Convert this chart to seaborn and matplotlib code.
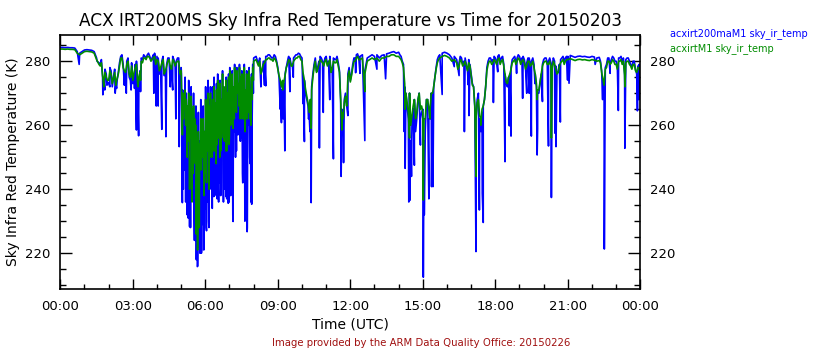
import numpy as np
import pandas as pd
import matplotlib
matplotlib.use("Agg")
import matplotlib.pyplot as plt
from matplotlib.ticker import MultipleLocator
import seaborn as sns

# Sample grid: one value every 0.1 h from 00:00 to 24:00
step_hours = np.arange(241) * 0.1

# acxirt200maM1 sky_ir_temp (K), 0.1 h samples, one row per hour
blue_base = [
    284.3, 284.3, 284.2, 284.3, 284.2, 284.2, 284.1, 283.0, 282.5, 283.0,
    283.5, 283.6, 283.5, 283.4, 283.0, 281.0, 279.5, 280.5, 274.0, 276.0,
    273.0, 277.0, 275.0, 272.5, 276.5, 281.5, 279.0, 276.0, 281.0, 274.0,
    273.0, 279.0, 272.0, 277.0, 280.5, 281.5, 282.0, 281.5, 281.0, 282.5,
    281.5, 276.0, 280.0, 275.5, 279.0, 281.0, 277.0, 280.5, 280.0, 281.0,
    278.0, 262.0, 270.0, 250.0, 265.0, 240.0, 255.0, 232.0, 245.0, 262.0,
    238.0, 268.0, 245.0, 272.0, 250.0, 266.0, 242.0, 270.0, 255.0, 274.0,
    252.0, 276.0, 262.0, 278.0, 270.0, 275.0, 258.0, 270.0, 262.0, 272.0,
    281.0, 281.5, 279.0, 276.0, 280.0, 281.5, 282.0, 281.5, 281.0, 281.5,
    278.0, 274.0, 270.0, 276.0, 280.0, 281.0, 279.0, 281.5, 282.0, 282.3,
    281.0, 274.0, 268.0, 263.0, 272.0, 279.0, 277.0, 280.0, 281.0, 279.0,
    281.5, 280.0, 277.0, 281.0, 280.5, 279.5, 268.0, 262.0, 270.0, 276.0,
    274.0, 279.0, 281.0, 282.3, 281.5, 282.0, 277.0, 281.0, 281.5, 282.0,
    281.5, 282.0, 281.0, 281.8, 282.0, 282.3, 282.5, 282.8, 283.0, 282.5,
    282.8, 281.5, 279.0, 270.0, 262.0, 255.0, 265.0, 258.0, 268.0, 262.0,
    265.0, 258.0, 268.0, 262.0, 270.0, 275.0, 280.5, 282.0, 282.5, 282.8,
    282.5, 282.0, 281.0, 281.5, 280.5, 279.5, 281.0, 280.0, 279.0, 280.5,
    276.0, 272.0, 262.0, 270.0, 258.0, 266.0, 272.0, 280.0, 281.0, 280.5,
    281.0, 281.5, 280.0, 281.5, 276.0, 272.0, 276.0, 280.5, 281.5, 281.0,
    281.5, 281.0, 280.5, 279.5, 281.0, 280.0, 279.0, 272.0, 270.0, 276.0,
    280.5, 281.0, 280.0, 279.5, 281.0, 278.5, 277.0, 280.5, 281.5, 281.0,
    281.5, 281.8, 281.5, 281.2, 281.5, 281.6, 281.4, 281.5, 281.3, 281.2,
    281.5, 281.3, 281.0, 281.2, 277.0, 272.0, 279.0, 281.0, 280.5, 281.0,
    280.0, 281.0, 281.5, 281.0, 280.5, 281.0, 279.0, 280.0, 277.5, 278.5,
    276.0,
]

# Short-lived dips between the regular samples
blue_spike_hours = [
    0.78, 1.52, 1.76, 1.84, 1.93, 2.05, 2.27, 2.33, 2.65, 2.73,
    2.93, 3.07, 3.15, 3.24, 3.32, 3.87, 3.97,
    4.05, 4.20, 4.37, 4.55, 4.65, 4.78, 4.92,
    5.05, 5.15, 5.25, 5.35, 5.45, 5.55, 5.62, 5.67, 5.72, 5.78, 5.85, 5.95,
    6.05, 6.15, 6.25, 6.35, 6.45, 6.55, 6.65, 6.75, 6.85, 6.95,
    7.05, 7.15, 7.25, 7.35, 7.45, 7.55, 7.65, 7.73, 7.85, 7.92,
    8.30, 8.45, 8.50, 9.10, 9.15, 9.22, 9.29, 9.50, 9.64,
    10.05, 10.10, 10.27, 10.33, 10.38, 10.72, 10.88, 11.15, 11.30,
    11.62, 11.68, 11.72, 11.90, 12.22, 12.40, 12.60, 13.10, 13.46,
    14.23, 14.27, 14.42, 14.46, 14.53, 14.65, 14.90,
    15.02, 15.06, 15.25, 15.36, 15.42, 15.80, 16.30,
    16.50, 16.72, 16.88, 16.91, 17.20, 17.34, 17.46, 17.50, 17.92, 18.10,
    18.40, 18.58, 18.65, 18.88, 19.13, 19.30, 19.40, 19.49, 19.64, 19.73,
    19.75, 19.95, 20.20, 20.32, 20.47, 20.51, 20.69, 20.99, 21.05, 22.13,
    22.44, 22.51, 22.75, 23.09, 23.36, 23.88, 23.94,
]
blue_spike_vals = [
    279.0, 280.0, 269.5, 271.0, 272.5, 272.0, 270.0, 271.5, 272.5, 270.0,
    271.0, 271.5, 258.5, 256.7, 270.5, 270.0, 266.0,
    266.0, 258.7, 256.4, 272.0, 271.0, 262.0, 253.3,
    235.8, 246.0, 232.0, 228.3, 238.0, 224.0, 218.0, 215.8, 222.0, 220.0, 221.0, 230.0,
    227.0, 228.0, 240.0, 237.7, 242.0, 236.0, 244.0, 236.0, 237.7, 235.6,
    238.0, 229.9, 250.0, 257.0, 255.0, 242.0, 232.0, 226.7, 248.0, 235.3,
    272.0, 272.5, 272.3, 265.0, 260.8, 262.0, 252.0, 270.5, 275.0,
    266.7, 254.9, 262.0, 258.0, 235.8, 252.9, 264.0, 268.0, 249.5,
    244.0, 258.0, 248.3, 263.0, 276.4, 276.2, 255.2, 277.5, 274.5,
    258.0, 246.5, 236.0, 236.5, 244.0, 247.5, 253.8,
    212.5, 232.0, 237.0, 240.8, 240.8, 269.6, 278.3,
    275.5, 258.0, 272.6, 263.0, 220.5, 233.5, 238.7, 229.6, 267.1, 276.7,
    248.6, 259.8, 256.6, 276.2, 268.4, 270.0, 270.0, 256.6, 273.0, 250.7,
    259.0, 267.4, 253.5, 237.4, 257.5, 253.3, 261.0, 274.1, 273.1, 279.0,
    268.0, 221.3, 276.2, 264.6, 252.8, 264.5, 268.0,
]

# acxirtM1 sky_ir_temp (K), 0.1 h samples, one row per hour
green_base = [
    283.8, 283.8, 283.7, 283.8, 283.7, 283.7, 283.6, 282.5, 282.0, 282.5,
    283.0, 283.1, 283.0, 282.9, 282.5, 280.5, 279.0, 279.5, 273.5, 275.0,
    274.0, 276.0, 274.5, 273.0, 276.0, 281.0, 278.0, 276.5, 280.0, 275.0,
    274.0, 278.0, 273.0, 276.5, 279.5, 281.0, 281.5, 281.0, 280.5, 281.5,
    280.5, 277.0, 279.5, 276.0, 278.5, 280.5, 277.5, 280.0, 279.5, 280.0,
    277.0, 262.0, 268.0, 255.0, 262.0, 245.0, 252.0, 238.0, 248.0, 258.0,
    245.0, 265.0, 250.0, 268.0, 252.0, 262.0, 250.0, 266.0, 258.0, 270.0,
    258.0, 274.0, 262.0, 276.0, 268.0, 274.0, 262.0, 268.0, 264.0, 271.0,
    280.0, 280.5, 278.5, 276.0, 279.0, 280.5, 281.0, 280.5, 280.0, 280.5,
    277.5, 274.0, 271.0, 275.5, 279.0, 280.0, 278.5, 280.5, 281.0, 281.5,
    280.0, 274.0, 269.0, 264.0, 271.0, 278.0, 276.5, 279.0, 280.0, 278.5,
    280.5, 279.5, 276.5, 280.0, 279.5, 278.5, 268.0, 262.0, 269.0, 275.0,
    273.5, 278.0, 280.0, 281.5, 280.5, 281.0, 276.0, 280.0, 280.5, 281.0,
    280.5, 281.0, 280.0, 281.0, 281.0, 281.5, 281.5, 282.0, 282.0, 281.5,
    281.5, 280.5, 278.0, 270.0, 264.0, 260.0, 266.0, 262.0, 268.0, 265.0,
    264.0, 262.0, 268.0, 265.0, 270.0, 275.0, 279.5, 281.0, 281.5, 281.8,
    281.5, 281.0, 280.0, 280.5, 279.5, 278.5, 280.0, 279.0, 278.5, 279.5,
    275.5, 272.0, 262.0, 268.0, 260.0, 266.0, 272.0, 279.0, 280.0, 279.5,
    280.0, 280.5, 279.0, 280.5, 276.0, 273.0, 276.0, 279.5, 280.5, 280.0,
    280.5, 280.0, 279.5, 278.5, 280.0, 279.0, 278.0, 273.0, 271.0, 276.0,
    279.5, 280.0, 279.0, 278.5, 280.0, 277.5, 276.5, 279.5, 280.5, 280.0,
    280.5, 280.8, 280.5, 280.2, 280.5, 280.6, 280.4, 280.5, 280.3, 280.2,
    280.5, 280.3, 280.0, 280.2, 276.5, 272.5, 278.0, 280.0, 279.5, 280.0,
    279.0, 280.0, 280.5, 280.0, 279.5, 280.0, 278.5, 279.0, 277.0, 278.0,
    276.0,
]

green_spike_hours = [
    1.80, 2.30, 3.22, 3.32,
    5.05, 5.25, 5.35, 5.45, 5.62, 5.68, 5.75, 5.95, 6.05, 6.15, 6.35, 6.45,
    6.65, 6.75, 6.85, 7.05, 7.15, 7.45, 7.65, 7.85,
    9.20, 10.38, 11.65, 12.60, 14.27, 14.45, 15.02, 15.30, 17.20, 17.40,
    19.73, 20.32, 23.36,
]
green_spike_vals = [
    272.0, 272.5, 272.0, 274.0,
    257.0, 250.0, 240.0, 236.0, 226.0, 221.0, 228.0, 238.0, 242.0, 240.0, 252.0, 248.0,
    255.0, 256.0, 252.0, 260.0, 259.0, 262.0, 258.0, 262.0,
    274.0, 259.0, 258.5, 270.5, 265.0, 256.0, 236.6, 262.0, 244.0, 262.0,
    268.0, 256.0, 272.0,
]

# Cloudy morning 05:00-08:00 sampled more finely (every 0.025 h)
cloud_hours = 5.0125 + np.arange(120) * 0.025
blue_cloud = [
    276, 252, 271, 240, 266, 258, 275, 236, 270, 248, 262, 231, 274, 255, 268, 228, 272, 246, 264, 238,
    270, 232, 262, 224, 266, 218, 258, 216, 264, 222, 255, 226, 268, 220, 260, 229, 266, 221, 258, 234,
    272, 228, 265, 236, 274, 230, 268, 245, 272, 240, 262, 234, 270, 248, 275, 238, 266, 250, 273, 237,
    276, 244, 270, 252, 274, 238, 268, 255, 277, 246, 272, 240, 266, 253, 275, 237, 270, 248, 276, 236,
    278, 250, 273, 260, 277, 232, 270, 258, 279, 262, 274, 252, 278, 266, 272, 258, 279, 264, 275, 256,
    277, 245, 272, 262, 279, 230, 270, 255, 277, 228, 274, 260, 278, 250, 270, 236, 276, 262, 279, 270,
]
green_cloud = [
    272, 266, 270, 262, 268, 265, 271, 260, 268, 263, 266, 258, 270, 264, 267, 256, 269, 262, 265, 258,
    266, 255, 262, 248, 260, 240, 256, 232, 258, 245, 254, 250, 262, 246, 258, 250, 262, 248, 258, 252,
    268, 248, 265, 252, 270, 250, 266, 256, 270, 254, 263, 250, 268, 258, 272, 252, 267, 260, 271, 254,
    274, 256, 270, 262, 273, 252, 268, 263, 276, 258, 272, 255, 268, 262, 274, 252, 270, 258, 275, 254,
    277, 264, 273, 268, 276, 262, 272, 266, 278, 268, 274, 264, 277, 270, 273, 266, 278, 270, 275, 265,
    276, 262, 273, 268, 278, 258, 271, 265, 276, 262, 274, 268, 277, 262, 271, 260, 275, 268, 278, 274,
]

# Extra half-step samples (x.x5 h) through the broken-cloud periods
half_a_hours = 1.65 + np.arange(34) * 0.1
blue_half_a = [
    279.0, 275.0, 277.5, 273.5, 278.0, 272.0, 277.5, 274.0, 279.5, 282.0,
    277.0, 280.0, 275.0, 279.5, 276.0, 280.0, 274.0, 281.0, 282.0, 281.0,
    282.5, 280.5, 282.0, 279.0, 281.0, 278.0, 281.5, 276.5, 281.0, 278.5,
    281.5, 279.0, 281.0, 276.0,
]
green_half_a = [
    278.5, 275.5, 276.5, 274.0, 277.0, 273.0, 276.5, 274.5, 278.5, 281.0,
    277.0, 279.0, 276.0, 278.5, 276.5, 279.0, 275.0, 280.0, 281.0, 280.5,
    281.5, 280.0, 281.0, 279.0, 280.0, 278.0, 280.5, 277.0, 280.0, 278.5,
    280.5, 278.5, 280.0, 276.0,
]

half_b_hours = 8.25 + np.arange(42) * 0.1
blue_half_b = [
    281.0, 277.0, 280.0, 281.5, 282.0, 281.0, 282.0, 280.0,
    275.0, 271.0, 273.0, 278.0, 281.5, 279.0, 281.0, 282.0, 282.5, 281.5,
    276.0, 270.0, 266.0, 268.0, 276.0, 281.0, 278.0, 281.5, 280.0, 281.0,
    279.0, 281.5, 278.0, 280.5, 281.5, 277.0, 265.0, 268.0, 266.0, 278.0,
    276.0, 281.0, 282.0, 281.0,
]
green_half_b = [
    280.0, 277.5, 279.5, 280.5, 281.0, 280.5, 281.0, 279.5,
    275.5, 272.0, 273.5, 278.0, 280.5, 278.5, 280.0, 281.0, 281.5, 280.5,
    276.0, 271.0, 267.0, 268.0, 275.0, 280.0, 277.5, 280.5, 279.5, 280.0,
    278.5, 280.5, 277.5, 279.5, 280.5, 276.5, 264.0, 267.0, 266.0, 277.0,
    275.5, 280.0, 281.0, 280.5,
]

half_c_hours = 14.05 + np.arange(17) * 0.1
blue_half_c = [
    282.0, 280.0, 272.0, 266.0, 270.0, 260.0, 268.0, 262.0, 270.0, 264.0,
    255.0, 268.0, 262.0, 270.0, 272.0, 278.0, 281.5,
]
green_half_c = [
    281.0, 279.5, 273.0, 267.0, 270.0, 263.0, 268.0, 264.0, 270.0, 266.0,
    262.0, 268.0, 265.0, 270.0, 272.0, 277.5, 280.5,
]

half_d_hours = 16.35 + np.arange(47) * 0.1
blue_half_d = [
    281.0, 278.0, 281.5, 279.0, 281.0, 277.0, 279.0,
    273.0, 266.0, 268.0, 262.0, 264.0, 268.0, 278.0, 281.0, 280.0, 281.5,
    280.0, 282.0, 281.0, 279.0, 273.0, 275.0, 278.0, 281.0, 280.0, 282.0,
    280.0, 281.5, 278.0, 281.0, 279.0, 281.0, 276.0, 270.0, 273.0, 279.0,
    281.0, 279.5, 281.0, 278.0, 280.0, 276.0, 279.0, 281.0, 280.0, 281.5,
]
green_half_d = [
    280.0, 277.5, 280.5, 278.5, 280.0, 277.0, 278.5,
    272.5, 266.0, 267.0, 263.0, 265.0, 268.0, 277.0, 280.0, 279.0, 280.5,
    279.0, 281.0, 280.0, 278.5, 273.5, 275.0, 277.5, 280.0, 279.0, 281.0,
    279.0, 280.5, 277.5, 280.0, 278.5, 280.0, 276.0, 271.0, 273.5, 278.5,
    280.0, 279.0, 280.0, 277.5, 279.0, 276.0, 278.5, 280.0, 279.0, 280.5,
]

half_e_hours = 22.35 + np.arange(17) * 0.1
blue_half_e = [
    280.0, 274.0, 278.0, 281.0, 279.5, 281.5, 280.0, 278.0, 281.0, 280.0,
    276.0, 281.0, 280.0, 278.0, 280.0, 276.0, 279.0,
]
green_half_e = [
    279.5, 274.5, 277.5, 280.0, 279.0, 280.5, 279.0, 277.5, 280.0, 279.0,
    275.5, 280.0, 279.0, 277.5, 279.0, 276.5, 278.0,
]

blue_name = "acxirt200maM1 sky_ir_temp"
green_name = "acxirtM1 sky_ir_temp"
blue_color = "#0000ff"
green_color = "#008c00"


def build_frame(name, parts):
    hours = np.concatenate([np.asarray(h, dtype=float) for h, _ in parts])
    temps = np.concatenate([np.asarray(v, dtype=float) for _, v in parts])
    return pd.DataFrame({"hour": hours, "temp": temps, "series": name})


df = pd.concat([
    build_frame(blue_name, [(step_hours, blue_base),
                            (blue_spike_hours, blue_spike_vals),
                            (cloud_hours, blue_cloud),
                            (half_a_hours, blue_half_a),
                            (half_b_hours, blue_half_b),
                            (half_c_hours, blue_half_c),
                            (half_d_hours, blue_half_d),
                            (half_e_hours, blue_half_e)]),
    build_frame(green_name, [(step_hours, green_base),
                             (green_spike_hours, green_spike_vals),
                             (cloud_hours, green_cloud),
                             (half_a_hours, green_half_a),
                             (half_b_hours, green_half_b),
                             (half_c_hours, green_half_c),
                             (half_d_hours, green_half_d),
                             (half_e_hours, green_half_e)]),
], ignore_index=True)

sns.set_theme(style="white")
plt.rcParams["font.family"] = ["DejaVu Sans"]
plt.rcParams.update({
    "text.color": "black", "axes.labelcolor": "black",
    "xtick.color": "black", "ytick.color": "black",
    "xtick.direction": "in", "ytick.direction": "in",
})

fig = plt.figure(figsize=(8.4, 3.5), dpi=100)
ax = fig.add_axes([0.0718, 0.1743, 0.6905, 0.7249])

sns.lineplot(
    data=df, x="hour", y="temp", hue="series",
    hue_order=[blue_name, green_name],
    palette={blue_name: blue_color, green_name: green_color},
    estimator=None, sort=True, legend=False, linewidth=1.2, ax=ax,
)

ax.set_xlim(0, 24)
ax.set_ylim(208.8, 288.1)
ax.set_xticks(range(0, 25, 3))
ax.set_xticklabels(["00:00", "03:00", "06:00", "09:00", "12:00",
                    "15:00", "18:00", "21:00", "00:00"])
ax.xaxis.set_minor_locator(MultipleLocator(1))
ax.set_yticks([220, 240, 260, 280])
ax.yaxis.set_minor_locator(MultipleLocator(5))

ax.tick_params(which="both", direction="in", top=True, right=True,
               bottom=True, left=True, labelright=True, labeltop=False,
               colors="black", labelsize=9.5, width=1)
ax.tick_params(axis="x", which="major", length=7.5, pad=8)
ax.tick_params(axis="x", which="minor", length=3.8)
ax.tick_params(axis="y", which="major", length=8.6, pad=7)
ax.tick_params(axis="y", which="minor", length=4.3)

for side in ("left", "right", "top", "bottom"):
    ax.spines[side].set_color("black")
    ax.spines[side].set_linewidth(1.2)

ax.set_xlabel("Time (UTC)", fontsize=10, labelpad=3)
ax.set_ylabel("Sky Infra Red Temperature (K)", fontsize=10, labelpad=4)
ax.set_title("ACX IRT200MS Sky Infra Red Temperature vs Time for 20150203",
             fontsize=12.2, pad=7)

fig.text(0.7976, 0.904, blue_name, color=blue_color, fontsize=7, va="center")
fig.text(0.7976, 0.861, green_name, color=green_color, fontsize=7, va="center")
fig.text(0.502, 0.02, "Image provided by the ARM Data Quality Office: 20150226",
         color="#a01010", fontsize=7.3, ha="center", va="center")

fig.savefig("out.png", dpi=100, facecolor="white")
